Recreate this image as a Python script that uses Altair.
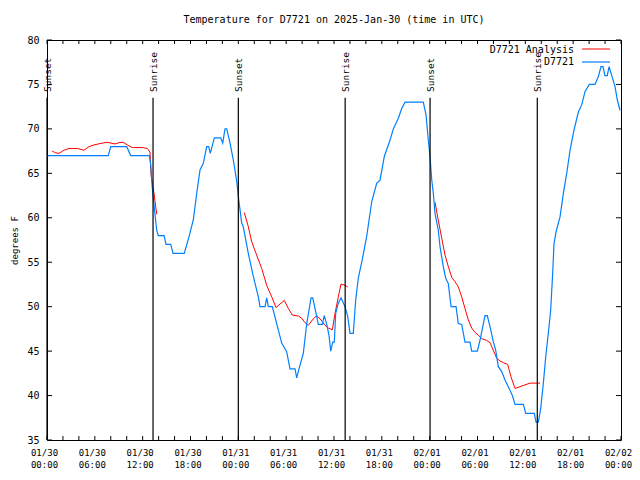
import altair as alt
import pandas as pd

# ---- data (hours since 2025-01-30 00:00 UTC, temperature in degrees F) ----
obs_hours = [0.0, 7.69, 7.99, 10.0, 10.5, 12.83, 13.0, 13.21, 13.51, 13.76, 13.96, 14.68, 14.93, 15.52,
             15.81, 17.22, 17.85, 18.35, 18.78, 19.2, 19.6, 20.03, 20.28, 20.48, 20.99, 21.79, 22.04,
             22.33, 22.54, 22.96, 23.37, 23.8, 24.0, 24.42, 24.62, 25.25, 25.88, 26.51, 26.72, 27.35,
             27.56, 27.76, 28.26, 28.81, 29.44, 30.07, 30.48, 31.11, 31.32, 31.61, 32.15, 32.58, 33.12,
             33.33, 33.83, 34.03, 34.53, 34.78, 35.09, 35.37, 35.59, 35.84, 36.04, 36.21, 36.54, 36.88,
             37.38, 37.72, 38.01, 38.42, 38.72, 39.05, 39.48, 40.1, 40.73, 41.36, 41.77, 42.31, 43.03,
             43.44, 44.07, 44.49, 44.91, 47.2, 47.54, 47.83, 48.04, 48.26, 48.46, 48.67, 49.08, 49.3,
             49.71, 50.01, 50.34, 50.68, 51.31, 51.59, 52.02, 52.43, 53.06, 53.27, 53.98, 54.32, 54.94,
             55.23, 55.66, 55.98, 56.28, 56.61, 57.04, 57.45, 57.87, 58.37, 58.71, 59.75, 60.05, 61.13,
             61.34, 61.63, 61.93, 62.26, 62.56, 62.88, 63.18, 63.43, 63.6, 63.85, 64.35, 64.77, 65.19,
             65.61, 66.11, 66.65, 67.07, 67.49, 68.03, 68.74, 69.16, 69.49, 69.74, 69.99, 70.28, 70.5,
             70.84, 71.25, 71.54, 71.88]
obs_temps = [67, 67, 68, 68, 67, 67, 66.1, 63.3, 60.7, 58.6, 58, 58, 57, 57,
             56, 56, 58, 59.75, 62.75, 65.4, 66.1, 68, 68, 67.25, 69, 69, 68.4,
             70, 70, 68.4, 66.5, 64.1, 62.4, 59.4, 59, 56, 53.4, 51.1, 50, 50,
             51, 50, 50, 48.1, 45.9, 44.9, 43, 43, 42, 43, 44.75, 48.1, 51,
             51, 48.9, 48, 48, 49, 48, 46.8, 45, 46, 46, 49.25, 50.4, 51,
             50, 48.9, 47, 47, 50.75, 53.2, 55, 57.9, 61.8, 63.9, 64.2, 66.9, 68.75,
             70, 71.2, 72.3, 73, 73, 71.6, 68.75, 66.9, 64.25, 62.75, 60.5, 58.6, 56.75,
             54.5, 53.2, 52.6, 50, 50, 48.1, 48, 46, 46, 45, 45, 46.25, 49,
             49, 47.4, 46.06, 45.1, 43.25, 42.7, 41.75, 41, 40, 39, 39, 38, 38,
             37, 37, 38.56, 41.4, 44.4, 47, 49.6, 53.75, 57.1, 58.4, 60.1, 62.75, 65,
             67.6, 69.9, 71.9, 72.7, 74.2, 75, 75, 75.9, 77, 77, 76, 76, 77,
             76, 74.75, 73.25, 72.1]

ana_hours = [0.66, 1.09, 1.51, 2.13, 2.76, 3.8, 4.64, 5.27, 5.9, 6.94, 7.56, 8.03, 8.53, 9.03, 9.53,
             10.07, 10.7, 11.95, 12.58, 12.92, 13.0, 13.08, 13.42, 13.76,
             24.75, 25.25, 25.68, 26.3, 26.93, 27.56, 28.19, 28.73, 29.23, 29.77, 30.27, 30.77, 31.52,
             31.95, 32.36, 32.78, 33.28, 33.83, 34.37, 34.87, 35.29, 35.79, 36.13, 36.54, 36.88, 37.38,
             37.72,
             48.67, 49.08, 49.51, 49.93, 50.34, 50.77, 51.18, 51.59, 52.02, 52.43, 52.85, 53.27, 53.69,
             54.1, 54.53, 55.16, 55.57, 55.98, 56.41, 56.82, 57.24, 57.79, 58.2, 58.71, 59.33, 59.96,
             60.59, 61.84]
ana_temps = [67.5, 67.3, 67.25, 67.6, 67.8, 67.8, 67.6, 68, 68.2, 68.4, 68.5, 68.4, 68.3, 68.45, 68.5,
             68.2, 67.9, 67.9, 67.8, 67.4, 65.6, 64.6, 62.75, 60.4,
             60.6, 59, 57.3, 55.8, 54.3, 52.4, 51.1, 49.9, 50.3, 50.7, 49.8, 49.06, 48.95,
             48.7, 48.2, 47.9, 48.5, 49, 48.5, 47.9, 47.6, 47.4, 49.25, 51.1, 52.55, 52.4,
             52.2,
             61.75, 59.75, 57.7, 55.8, 54.5, 53.3, 52.8, 52.25, 51.1, 49.8, 48.5, 47.6, 47.1,
             46.8, 46.4, 46.2, 45.95, 45.1, 44.2, 43.9, 43.7, 43.5, 42.1, 40.8, 41, 41.2,
             41.4, 41.4]
ana_segment = [1] * 24 + [2] * 27 + [3] * 28

sun_hours = [0.0, 13.3, 24.0, 37.4, 48.05, 61.5]
sun_labels = ["Sunset", "Sunrise", "Sunset", "Sunrise", "Sunset", "Sunrise"]

x_tick_labels_date = ["01/30", "01/31", "02/01", "02/02"]
x_tick_labels_time = ["00:00", "06:00", "12:00", "18:00"]
legend_labels = ["D7721 Analysis", "D7721"]

W, H = 574, 400
FONT = "DejaVu Sans Mono"

obs = pd.DataFrame({"h": obs_hours, "t": obs_temps})
ana = pd.DataFrame({"h": ana_hours, "t": ana_temps, "seg": ana_segment})
sun = pd.DataFrame({"h": sun_hours, "label": sun_labels})
xt = pd.DataFrame({"h": list(range(0, 73, 2))})
yt = pd.DataFrame({"t": list(range(35, 81, 5))})
leg = pd.DataFrame({"label": legend_labels})

xscale = alt.Scale(domain=[0, 72], nice=False, zero=False)
yscale = alt.Scale(domain=[35, 80], nice=False, zero=False)

label_expr = ("[" + str(x_tick_labels_date) + "[floor(datum.value/24)], "
              + str(x_tick_labels_time) + "[floor((datum.value%24)/6)]]")

base_x = alt.X("h:Q", scale=xscale,
               axis=alt.Axis(values=list(range(0, 73, 6)), labelExpr=label_expr, ticks=False,
                             domain=False, grid=False, title=None, labelFont=FONT,
                             labelFontSize=9, labelPadding=8, labelLineHeight=12,
                             labelOffset=-3,
                             labelColor="black", labelFlush=False, labelOverlap=False))
base_y = alt.Y("t:Q", scale=yscale,
               axis=alt.Axis(values=list(range(35, 81, 5)), ticks=False, domain=False, grid=False,
                             title="degrees F", titleFont=FONT, titleFontSize=9,
                             titleFontWeight="normal", titleColor="black", titlePadding=7,
                             labelFont=FONT, labelFontSize=10, labelPadding=8,
                             labelColor="black"))

ana_line = alt.Chart(ana).mark_line(color="#ff0000", strokeWidth=1).encode(
    x=base_x, y=base_y, detail="seg:N", order="h:Q")
obs_line = alt.Chart(obs).mark_line(color="#0080ff", strokeWidth=1.2).encode(
    x=alt.X("h:Q", scale=xscale), y=alt.Y("t:Q", scale=yscale), order="h:Q")

sun_rule = alt.Chart(sun).mark_rule(color="black", strokeWidth=1.2).encode(
    x=alt.X("h:Q", scale=xscale), y=alt.datum(73.5), y2=alt.datum(35))
sun_text = alt.Chart(sun).mark_text(angle=270, align="left", baseline="middle", font=FONT,
                                    fontSize=9.5, color="black", dy=1).encode(
    x=alt.X("h:Q", scale=xscale), y=alt.datum(74.15), text="label:N")

xt_bot = alt.Chart(xt).mark_rule(color="black").encode(
    x=alt.X("h:Q", scale=xscale), y=alt.value(H), y2=alt.value(H - 4))
xt_top = alt.Chart(xt).mark_rule(color="black").encode(
    x=alt.X("h:Q", scale=xscale), y=alt.value(0), y2=alt.value(4))
yt_left = alt.Chart(yt).mark_rule(color="black").encode(
    y=alt.Y("t:Q", scale=yscale), x=alt.value(0), x2=alt.value(5))
yt_right = alt.Chart(yt).mark_rule(color="black").encode(
    y=alt.Y("t:Q", scale=yscale), x=alt.value(W), x2=alt.value(W - 5))

leg_text1 = alt.Chart(leg).transform_filter(alt.datum.label == legend_labels[0]).mark_text(
    align="right", baseline="middle", font=FONT, fontSize=10, color="black").encode(
    x=alt.value(527), y=alt.value(10), text="label:N")
leg_text2 = alt.Chart(leg).transform_filter(alt.datum.label == legend_labels[1]).mark_text(
    align="right", baseline="middle", font=FONT, fontSize=10, color="black").encode(
    x=alt.value(527), y=alt.value(22), text="label:N")
leg_red = alt.Chart(leg).transform_filter(alt.datum.label == legend_labels[0]).mark_rule(
    color="#ff0000").encode(x=alt.value(535), x2=alt.value(563), y=alt.value(9))
leg_blue = alt.Chart(leg).transform_filter(alt.datum.label == legend_labels[1]).mark_rule(
    color="#0080ff", strokeWidth=1.2).encode(x=alt.value(535), x2=alt.value(563), y=alt.value(22))

chart = alt.layer(
    ana_line, obs_line, sun_rule, sun_text, xt_bot, xt_top, yt_left, yt_right,
    leg_text1, leg_text2, leg_red, leg_blue
).properties(
    width=W, height=H,
    title=alt.TitleParams("Temperature for D7721 on 2025-Jan-30 (time in UTC)", font=FONT,
                          fontSize=10, fontWeight="normal", color="black", anchor="middle",
                          offset=10),
    autosize=alt.AutoSizeParams(type="none"),
    padding={"left": 39, "top": 32, "right": 11, "bottom": 30},
    background="white",
).configure_view(stroke="black", strokeWidth=1)

chart.save("out.html", embed_options={"renderer": "svg", "actions": False})
